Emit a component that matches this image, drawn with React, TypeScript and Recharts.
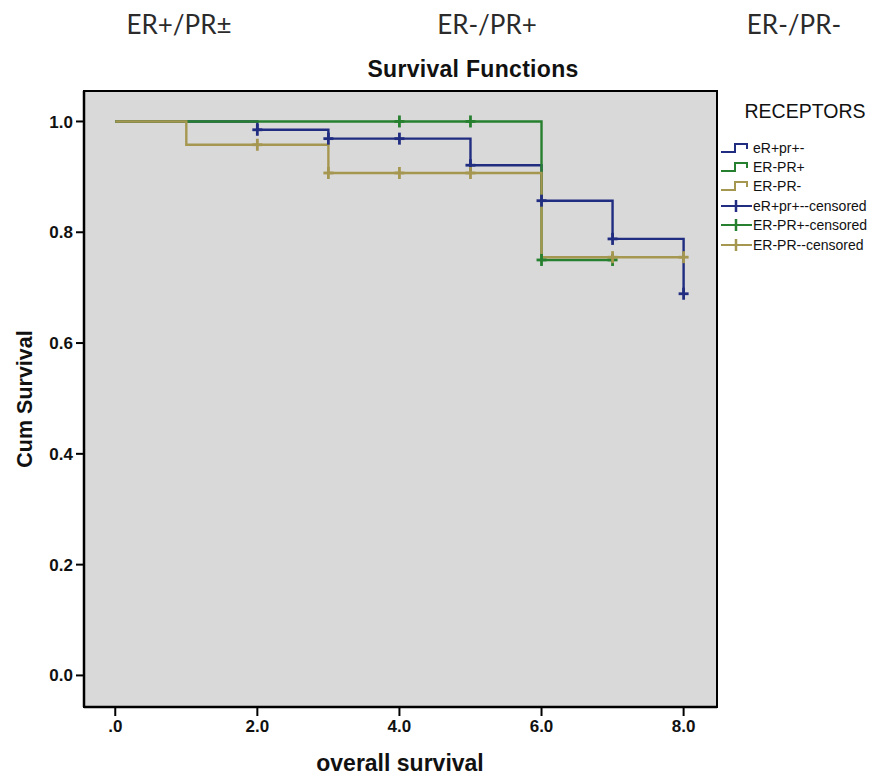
import {
  ComposedChart,
  CartesianGrid,
  Line,
  ReferenceArea,
  Scatter,
  XAxis,
  YAxis,
} from "recharts";

const groupLabels = ["ER+/PR±", "ER-/PR+", "ER-/PR-"];
const legendLabels = [
  "eR+pr+-",
  "ER-PR+",
  "ER-PR-",
  "eR+pr+--censored",
  "ER-PR+-censored",
  "ER-PR--censored",
];

const xTicks = [0, 2, 4, 6, 8];
const yTicks = [0, 0.2, 0.4, 0.6, 0.8, 1.0];

// step points (time, cum survival)
const erPosTimes = [0, 2, 3, 5, 6, 7, 8];
const erPosSurv = [1, 0.985, 0.969, 0.921, 0.857, 0.788, 0.689];
const erNegPrPosTimes = [0, 6, 7];
const erNegPrPosSurv = [1, 0.75, 0.75];
const erNegPrNegTimes = [0, 1, 3, 6, 8];
const erNegPrNegSurv = [1, 0.958, 0.907, 0.755, 0.755];

// censored marks
const erPosCensTimes = [2, 3, 4, 5, 6, 7, 8];
const erPosCensSurv = [0.985, 0.969, 0.969, 0.921, 0.857, 0.788, 0.689];
const erNegPrPosCensTimes = [4, 5, 6, 7];
const erNegPrPosCensSurv = [1, 1, 0.75, 0.75];
const erNegPrNegCensTimes = [2, 3, 4, 5, 7, 8];
const erNegPrNegCensSurv = [0.958, 0.907, 0.907, 0.907, 0.755, 0.755];

const BLUE = "#212d80";
const GREEN = "#27802f";
const OLIVE = "#a69750";
const COLORS = [BLUE, GREEN, OLIVE];

const zip = (xs: number[], ys: number[]) => xs.map((x, i) => ({ x, y: ys[i] }));

const curves = [
  zip(erPosTimes, erPosSurv),
  zip(erNegPrPosTimes, erNegPrPosSurv),
  zip(erNegPrNegTimes, erNegPrNegSurv),
];
const censored = [
  zip(erPosCensTimes, erPosCensSurv),
  zip(erNegPrPosCensTimes, erNegPrPosCensSurv),
  zip(erNegPrNegCensTimes, erNegPrNegCensSurv),
];

const plusShape = (color: string) => (p: any) => (
  <g>
    <line x1={p.cx} y1={p.cy - 6} x2={p.cx} y2={p.cy + 6} stroke={color} strokeWidth={2.8} />
    <line x1={p.cx - 5} y1={p.cy} x2={p.cx + 5} y2={p.cy} stroke={color} strokeWidth={2.8} />
  </g>
);

function LegendIcon({ color, censor }: { color: string; censor: boolean }) {
  return (
    <svg width={32} height={16} style={{ display: "block" }}>
      {censor ? (
        <>
          <line x1={0} y1={8} x2={31} y2={8} stroke={color} strokeWidth={2} />
          <line x1={15} y1={2} x2={15} y2={14} stroke={color} strokeWidth={2.5} />
        </>
      ) : (
        <path d="M0,12 H14 V4 H26 V9" fill="none" stroke={color} strokeWidth={2} />
      )}
    </svg>
  );
}

const sans = '"Liberation Sans", Arial, sans-serif';
const groupX = [179, 487, 794];

export default function App() {
  return (
    <div
      style={{
        position: "absolute",
        left: 0,
        top: 0,
        width: 893,
        height: 776,
        background: "#fff",
        fontFamily: sans,
      }}
    >
      {groupLabels.map((g, i) => (
        <div
          key={g}
          style={{
            position: "absolute",
            left: groupX[i] - 100,
            width: 200,
            top: 9,
            textAlign: "center",
            fontFamily: "Lato, sans-serif",
            fontSize: 26,
            lineHeight: "31px",
            color: "#2b2b2b",
          }}
        >
          {g}
        </div>
      ))}
      <div
        style={{
          position: "absolute",
          left: 273,
          width: 400,
          top: 56,
          textAlign: "center",
          fontSize: 23,
          lineHeight: "26px",
          fontWeight: 700,
          letterSpacing: 0.3,
          color: "#111",
        }}
      >
        Survival Functions
      </div>

      <ComposedChart width={893} height={776} margin={{ top: 91, right: 176, bottom: 0, left: 0 }}>
        <CartesianGrid fill="#d9d9d9" horizontal={false} vertical={false} />
        <XAxis
          type="number"
          dataKey="x"
          domain={[-0.44, 8.47]}
          ticks={xTicks}
          allowDataOverflow
          height={69}
          tickSize={9}
          tickMargin={4}
          axisLine={{ stroke: "#000", strokeWidth: 2.5 }}
          tickLine={{ stroke: "#000", strokeWidth: 2 }}
          tick={{ fill: "#111", fontSize: 17, fontWeight: 700, fontFamily: sans }}
          tickFormatter={(v: number) => (v === 0 ? ".0" : v.toFixed(1))}
        />
        <YAxis
          type="number"
          dataKey="y"
          domain={[-0.057, 1.055]}
          ticks={yTicks}
          allowDataOverflow
          width={84}
          tickSize={8}
          tickMargin={3}
          axisLine={{ stroke: "#000", strokeWidth: 2.5 }}
          tickLine={{ stroke: "#000", strokeWidth: 2 }}
          tick={{ fill: "#111", fontSize: 17, fontWeight: 700, fontFamily: sans }}
          tickFormatter={(v: number) => v.toFixed(1)}
        />
        <ReferenceArea
          x1={-0.44}
          x2={8.47}
          y1={-0.057}
          y2={1.055}
          fill="none"
          stroke="#000"
          strokeWidth={2}
          ifOverflow="visible"
        />
        {curves.map((d, i) => (
          <Line
            key={legendLabels[i]}
            data={d}
            dataKey="y"
            type="stepAfter"
            stroke={COLORS[i]}
            strokeWidth={2.4}
            dot={false}
            activeDot={false}
            isAnimationActive={false}
          />
        ))}
        {censored.map((d, i) => (
          <Scatter
            key={legendLabels[i + 3]}
            data={d}
            dataKey="y"
            shape={plusShape(COLORS[i])}
            isAnimationActive={false}
          />
        ))}
      </ComposedChart>

      <div
        style={{
          position: "absolute",
          left: 25,
          top: 399,
          transform: "translate(-50%, -50%) rotate(-90deg)",
          whiteSpace: "nowrap",
          fontSize: 21.5,
          fontWeight: 700,
          color: "#111",
        }}
      >
        Cum Survival
      </div>
      <div
        style={{
          position: "absolute",
          left: 200,
          width: 400,
          top: 750,
          textAlign: "center",
          fontSize: 23,
          lineHeight: "26px",
          fontWeight: 700,
          color: "#111",
        }}
      >
        overall survival
      </div>

      <div
        style={{
          position: "absolute",
          left: 735,
          width: 140,
          top: 100,
          textAlign: "center",
          fontSize: 19.5,
          lineHeight: "22px",
          color: "#111",
        }}
      >
        RECEPTORS
      </div>
      {legendLabels.map((l, i) => (
        <div
          key={l}
          style={{
            position: "absolute",
            left: 721,
            top: 138 + i * 19.4,
            height: 19,
            display: "flex",
            alignItems: "center",
            fontSize: 14,
            color: "#111",
            whiteSpace: "nowrap",
          }}
        >
          <LegendIcon color={COLORS[i % 3]} censor={i >= 3} />
          <span>{l}</span>
        </div>
      ))}
    </div>
  );
}
